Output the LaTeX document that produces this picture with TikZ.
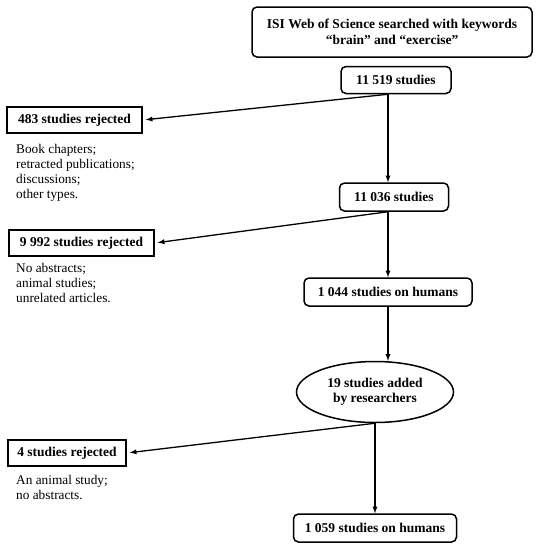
\documentclass[tikz,border=0pt]{standalone}
\usepackage{fontspec}
\setmainfont{Liberation Serif}
\usetikzlibrary{positioning,shapes.geometric}

\begin{document}
\begin{tikzpicture}[>=latex,x=1pt,y=-1pt,
    stagebox/.style={draw,line width=1.5pt,rounded corners=5pt,align=center,font=\fontsize{13.5}{15.5}\selectfont\bfseries,inner sep=0pt},
    rejbox/.style={draw,line width=1.5pt,align=center,font=\fontsize{13.5}{15.5}\selectfont\bfseries,inner sep=0pt},
    reason/.style={align=left,anchor=north west,inner sep=0pt,font=\fontsize{13.3}{15}\selectfont},
    flow/.style={->,line width=1.3pt},
    reject/.style={->,line width=1.3pt,shorten >=3pt}]
    \useasboundingbox (0,0) rectangle (541,550);
    % main stream
    \node[stagebox,minimum width=280pt,minimum height=50pt] (search) at (392,32) {ISI Web of Science searched with keywords\\``brain'' and ``exercise''};
    \node[stagebox,minimum width=110pt,minimum height=27pt] (found) at (396,80) {11 519 studies};
    \node[stagebox,minimum width=109pt,minimum height=28pt] (kept) at (394,197) {11 036 studies};
    \node[stagebox,minimum width=168pt,minimum height=28pt] (humans) at (388,292) {1 044 studies on humans};
    \node[draw,ellipse,line width=1.5pt,minimum width=157pt,minimum height=61pt,inner sep=0pt,align=center,font=\fontsize{13.5}{15.5}\selectfont\bfseries] (added) at (375,392) {19 studies added\\by researchers};
    \node[stagebox,minimum width=163pt,minimum height=28pt] (final) at (375,528) {1 059 studies on humans};
    % rejected
    \node[rejbox,minimum width=135pt,minimum height=26pt] (rejA) at (74.5,120) {483 studies rejected};
    \node[reason] (whyA) at (16,144) {Book chapters;\\retracted publications;\\discussions;\\other types.};
    \node[rejbox,minimum width=145pt,minimum height=26pt] (rejB) at (81.5,243) {9 992 studies rejected};
    \node[reason] (whyB) at (16,263) {No abstracts;\\animal studies;\\unrelated articles.};
    \node[rejbox,minimum width=118pt,minimum height=26pt] (rejC) at (67,453) {4 studies rejected};
    \node[reason] (whyC) at (16,475) {An animal study;\\no abstracts.};
    \draw[flow] (found.south -| humans) -- (kept.north -| humans);
    \draw[flow] (kept.south -| humans) -- (humans.north);
    \draw[flow] (humans.south) -- (humans.south |- added.north);
    \draw[flow] (added.south) -- (final.north);
    \draw[reject] (found.south -| humans) -- (rejA.east);
    \draw[reject] (kept.south -| humans) -- (rejB.east);
    \draw[reject] (added.south) -- (rejC.east);
\end{tikzpicture}
\end{document}
